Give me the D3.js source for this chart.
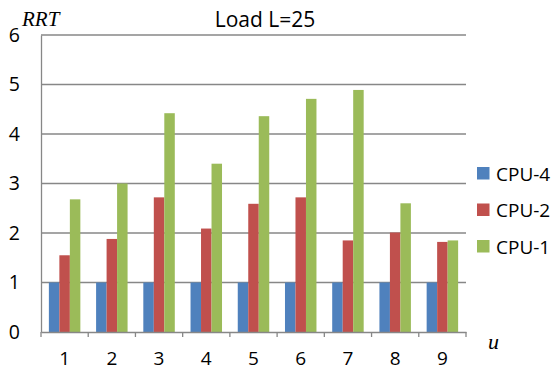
<!DOCTYPE html>
<html>
<head>
<meta charset="utf-8">
<script src="https://cdn.jsdelivr.net/npm/d3@7"></script>
<style>
  html, body { margin: 0; padding: 0; background: #fff; }
  svg { display: block; }
</style>
</head>
<body>
<svg id="chart" width="554" height="372"></svg>
<script>
// RRT per workload u, load L = 25
const categories = ["1", "2", "3", "4", "5", "6", "7", "8", "9"];
const seriesNames = ["CPU-4", "CPU-2", "CPU-1"];
const cpu4 = [1, 1, 1, 1, 1, 1, 1, 1, 1];
const cpu2 = [1.55, 1.88, 2.72, 2.09, 2.59, 2.72, 1.85, 2.01, 1.82];
const cpu1 = [2.68, 3.0, 4.42, 3.40, 4.36, 4.71, 4.89, 2.6, 1.85];
const yTicks = [0, 1, 2, 3, 4, 5, 6];
const colors = ["#4F81BD", "#C0504D", "#9BBB59"];

const series = [cpu4, cpu2, cpu1];
const svg = d3.select("#chart");
const font = "'Open Sans', 'Liberation Sans', sans-serif";
const serif = "'Liberation Serif', 'DejaVu Serif', serif";

const plotLeft = 41, plotRight = 466, plotTop = 35, plotBottom = 332;

const x = d3.scaleBand().domain(categories).range([plotLeft, plotRight]).paddingInner(0).paddingOuter(0);
const y = d3.scaleLinear().domain([0, 6]).range([plotBottom, plotTop]);

// bar width: 3 bars + a 150% gap per category
const barW = x.bandwidth() / 4.5;
const x1 = d3.scaleBand().domain(d3.range(3)).range([barW * 0.75, barW * 3.75]).padding(0);

// gridlines
svg.append("g")
  .selectAll("line")
  .data(yTicks.filter(d => d > 0))
  .join("line")
  .attr("x1", plotLeft).attr("x2", plotRight)
  .attr("y1", d => y(d)).attr("y2", d => y(d))
  .attr("stroke", "#878787").attr("stroke-width", 1.3);

// bars
const groups = svg.append("g")
  .selectAll("g")
  .data(categories)
  .join("g")
  .attr("transform", d => `translate(${x(d)},0)`);

groups.selectAll("rect")
  .data((d, i) => series.map((s, k) => ({ k, v: s[i] })))
  .join("rect")
  .attr("x", d => x1(d.k))
  .attr("width", x1.bandwidth())
  .attr("y", d => y(d.v))
  .attr("height", d => y(0) - y(d.v))
  .attr("fill", d => colors[d.k]);

// y axis
const yAxis = svg.append("g")
  .attr("transform", `translate(${plotLeft},0)`)
  .call(d3.axisLeft(y).tickValues(yTicks).tickSize(0).tickPadding(21).tickFormat(d3.format("d")));
yAxis.select(".domain").attr("stroke", "#878787").attr("stroke-width", 1.3);
yAxis.selectAll("text").attr("font-family", font).attr("font-size", 19.5).attr("fill", "#000");

// x axis: ticks at category boundaries
const xAxis = svg.append("g")
  .attr("transform", `translate(0,${plotBottom})`)
  .call(d3.axisBottom(x).tickSize(0).tickPadding(19.5));
xAxis.select(".domain").attr("stroke", "#878787").attr("stroke-width", 1.3);
xAxis.selectAll("text").attr("font-family", font).attr("font-size", 19).attr("fill", "#000");
svg.append("g")
  .selectAll("line")
  .data(d3.range(categories.length + 1))
  .join("line")
  .attr("x1", i => plotLeft + i * x.bandwidth()).attr("x2", i => plotLeft + i * x.bandwidth())
  .attr("y1", plotBottom).attr("y2", plotBottom + 5)
  .attr("stroke", "#878787").attr("stroke-width", 1.3);

// title and axis names
svg.append("text")
  .attr("x", 265).attr("y", 27)
  .attr("text-anchor", "middle")
  .attr("font-family", font).attr("font-size", 21)
  .text("Load L=25");

svg.append("text")
  .attr("x", 22).attr("y", 26)
  .attr("font-family", serif)
  .attr("font-style", "italic").attr("font-size", 21)
  .text("RRT");

svg.append("text")
  .attr("x", 488).attr("y", 349)
  .attr("font-family", serif)
  .attr("font-style", "italic").attr("font-size", 22)
  .text("u");

// legend
const legend = svg.append("g")
  .selectAll("g")
  .data(seriesNames)
  .join("g")
  .attr("transform", (d, i) => `translate(477,${167 + i * 36.5})`);
legend.append("rect").attr("width", 12.5).attr("height", 12.5).attr("fill", (d, i) => colors[i]);
legend.append("text")
  .attr("x", 19).attr("y", 13.5)
  .attr("font-family", font).attr("font-size", 19)
  .text(d => d);
</script>
</body>
</html>
